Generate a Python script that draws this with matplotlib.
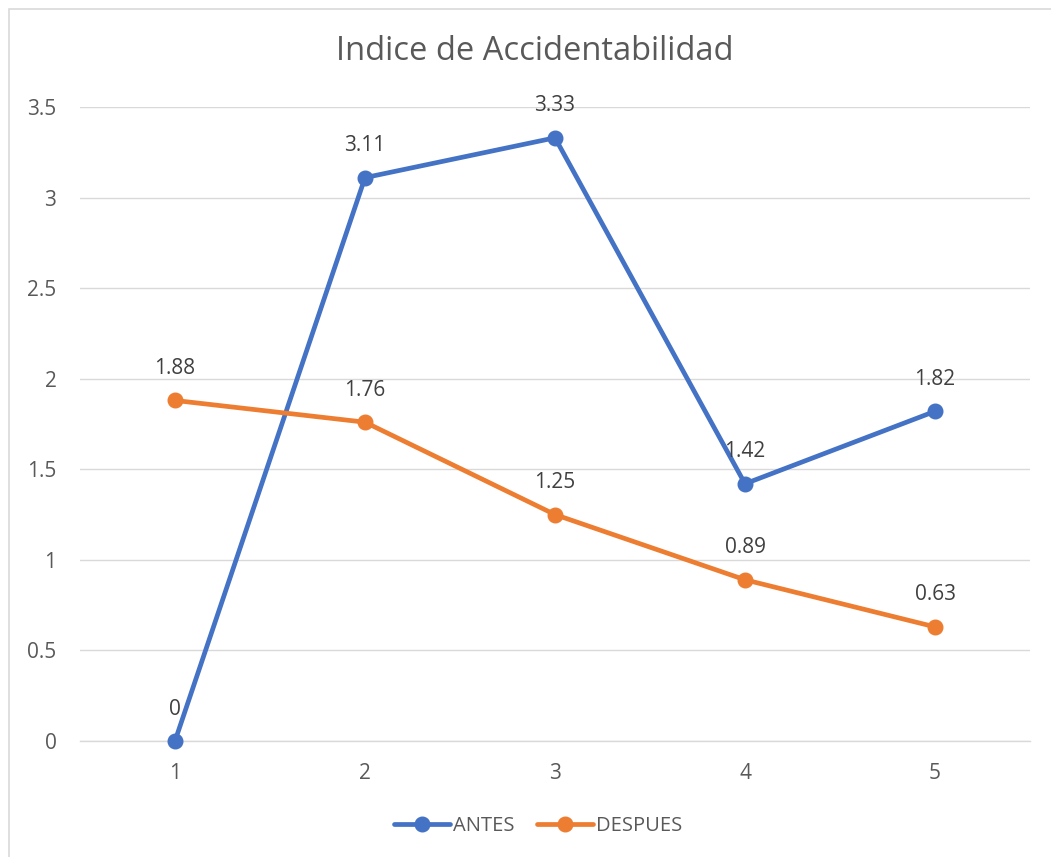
import matplotlib
matplotlib.use("Agg")
import matplotlib.pyplot as plt
from matplotlib.patches import Rectangle

categories = [1, 2, 3, 4, 5]
antes = [0, 3.11, 3.33, 1.42, 1.82]
despues = [1.88, 1.76, 1.25, 0.89, 0.63]
yticks = [0, 0.5, 1, 1.5, 2, 2.5, 3, 3.5]
ytick_labels = ["0", "0.5", "1", "1.5", "2", "2.5", "3", "3.5"]

BLUE = "#4472C4"
ORANGE = "#ED7D31"
TXT = "#595959"
GRID = "#D9D9D9"

plt.rcParams['font.family'] = ['Open Sans', 'DejaVu Sans']

fig = plt.figure(figsize=(10.51, 8.57), dpi=100)
fig.patches.append(Rectangle((9/1051, -0.1), 1.2, 1 - 9/857 + 0.1, transform=fig.transFigure,
                             fill=False, edgecolor="#D9D9D9", linewidth=1.2))
ax = fig.add_axes([80/1051, 1 - 741/857, 950/1051, 634/857])

ax.plot(categories, antes, color=BLUE, linewidth=3.4, marker='o', markersize=10.5, label="ANTES",
        solid_capstyle='round', zorder=3)
ax.plot(categories, despues, color=ORANGE, linewidth=3.4, marker='o', markersize=10.5, label="DESPUES",
        solid_capstyle='round', zorder=3)

for x, y in zip(categories, antes):
    ax.annotate(f"{y:g}", (x, y), xytext=(0, 23), textcoords='offset points',
                ha='center', va='center', fontsize=15, color="#404040", zorder=4)
for x, y in zip(categories, despues):
    ax.annotate(f"{y:g}", (x, y), xytext=(0, 23), textcoords='offset points',
                ha='center', va='center', fontsize=15, color="#404040", zorder=4)

ax.set_xlim(0.5, 5.5)
ax.set_ylim(0, 3.5)
ax.set_yticks(yticks)
ax.set_yticklabels(ytick_labels)
ax.set_xticks(categories)
ax.set_xticklabels([str(c) for c in categories])
ax.tick_params(axis='both', length=0, labelsize=15, labelcolor=TXT)
ax.tick_params(axis='y', pad=17)
ax.tick_params(axis='x', pad=16)
ax.grid(axis='y', color=GRID, linewidth=1)
ax.set_axisbelow(True)
for s in ['top', 'right', 'left']:
    ax.spines[s].set_visible(False)
ax.spines['bottom'].set_color(GRID)
ax.spines['bottom'].set_linewidth(1)
ax.spines['bottom'].set_zorder(1)
for l in ax.lines:
    l.set_clip_on(False)

fig.text(535/1051, 1 - 52/857, "Indice de Accidentabilidad", ha='center', va='center',
         fontsize=23.5, color=TXT)

leg = fig.legend(loc='center', bbox_to_anchor=(538/1051, 1 - 826/857), ncol=2, frameon=False,
                 fontsize=14.5, labelcolor=TXT, handlelength=2.8, handletextpad=0.15, columnspacing=1.1)

fig.savefig("out.png", dpi=100)
